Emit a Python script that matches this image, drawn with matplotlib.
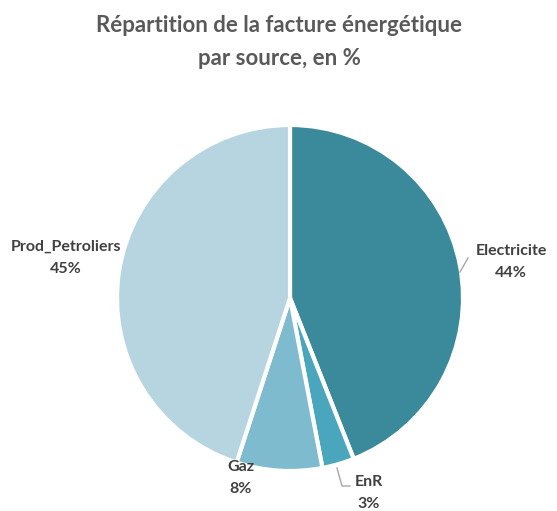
import matplotlib
matplotlib.use("Agg")
import matplotlib.pyplot as plt

categories = ["Electricite", "EnR", "Gaz", "Prod_Petroliers"]
values = [44, 3, 8, 45]
colors = ["#3a8a9c", "#4aa6bd", "#7fbbcf", "#b6d5e0"]

W, H = 557, 511
fig = plt.figure(figsize=(W / 100, H / 100), dpi=100)
ax = fig.add_axes([0, 0, 1, 1])

cx, cy, r = 290, H - 298, 173
wedges, _ = ax.pie(values, colors=colors, startangle=90, counterclock=False,
                   center=(cx, cy), radius=r, frame=True,
                   wedgeprops=dict(edgecolor="white", linewidth=3))
ax.set_xlim(0, W)
ax.set_ylim(0, H)
ax.set_aspect("equal")
ax.axis("off")

font = "Lato"
ax.text(W / 2 + 1, H - 25, "Répartition de la facture énergétique",
        ha="center", va="center", fontsize=16, fontweight="bold",
        color="#595959", family=font)
ax.text(W / 2 + 1, H - 58, "par source, en %",
        ha="center", va="center", fontsize=16, fontweight="bold",
        color="#595959", family=font)

label_pos = {
    "Electricite": (511, H - 262),
    "EnR": (369, H - 493),
    "Gaz": (241, H - 478),
    "Prod_Petroliers": (66, H - 258),
}
for cat, v in zip(categories, values):
    x, y = label_pos[cat]
    ax.text(x, y, f"{cat}\n{v}%", ha="center", va="center", fontsize=11.5,
            fontweight="bold", color="#404040", family=font, linespacing=1.75)

lc = "#a6a6a6"
ax.plot([460, 468], [H - 272, H - 258], color=lc, lw=1)
ax.plot([337, 342, 350], [H - 468, H - 486, H - 486], color=lc, lw=1)

fig.savefig("out.png", dpi=100)
